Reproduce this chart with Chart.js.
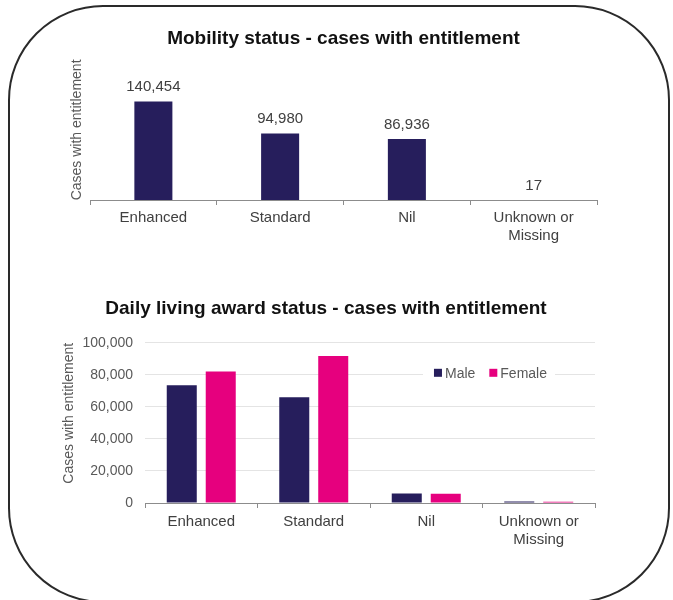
<!DOCTYPE html>
<html>
<head>
<meta charset="utf-8">
<script src="https://cdn.jsdelivr.net/npm/chart.js@4.4.1/dist/chart.umd.min.js"></script>
<style>
html,body{margin:0;padding:0;background:#fff;width:673px;height:600px;overflow:hidden;position:relative;}
#frame{position:absolute;left:8px;top:5px;width:662px;height:598px;box-sizing:border-box;border:2px solid #2a2a2a;border-radius:95px;}
#c1{position:absolute;left:0;top:0;}
#c2{position:absolute;left:0;top:270px;}
</style>
</head>
<body>
<div id="frame"></div>
<canvas id="c1" width="673" height="250"></canvas>
<canvas id="c2" width="673" height="293"></canvas>
<script>
// ---- data ----
const categories = ['Enhanced', 'Standard', 'Nil', ['Unknown or', 'Missing']];
const mobilityValues = [140454, 94980, 86936, 17];
const dailyMale = [73500, 66000, 5900, 900];
const dailyFemale = [82100, 91700, 5700, 800];
const dailyTicks = [0, 20000, 40000, 60000, 80000, 100000];
const seriesNames = ['Male', 'Female'];

const FONT = '"Liberation Sans", Arial, sans-serif';
const NAVY = '#261e5c';
const PINK = '#e6007e';
const AXIS = '#8c8c8c';
const fmt = v => Number(v).toLocaleString('en-US');

// value labels above bars (top chart)
const valueLabels = {
  id: 'valueLabels',
  afterDatasetsDraw(chart) {
    const ctx = chart.ctx;
    const ds = chart.data.datasets[0];
    const meta = chart.getDatasetMeta(0);
    ctx.save();
    ctx.font = '15px ' + FONT;
    ctx.fillStyle = '#404040';
    ctx.textAlign = 'center';
    ctx.textBaseline = 'bottom';
    meta.data.forEach((bar, i) => {
      ctx.fillText(fmt(ds.data[i]), bar.x, bar.y - 7);
    });
    ctx.restore();
  }
};

// legend drawn inside the plot area (bottom chart)
const insideLegend = {
  id: 'insideLegend',
  afterDatasetsDraw(chart) {
    const ctx = chart.ctx;
    const area = chart.chartArea;
    ctx.save();
    ctx.font = '14px ' + FONT;
    const box = 8, gapText = 3, gapItem = 14, padX = 8;
    const items = chart.data.datasets.map(d => ({label: d.label, color: d.backgroundColor, w: ctx.measureText(d.label).width}));
    let total = 0;
    items.forEach((it, i) => { total += box + gapText + it.w + (i ? gapItem : 0); });
    const right = area.right - 40;
    const cy = area.top + 30;
    const startX = right - padX - total;
    ctx.fillStyle = '#fff';
    ctx.fillRect(startX - padX - 3, cy - 10, total + 2 * padX + 3, 20);
    let x = startX;
    ctx.textBaseline = 'middle';
    ctx.textAlign = 'left';
    items.forEach(it => {
      ctx.fillStyle = it.color;
      ctx.fillRect(x, cy - box / 2, box, box);
      x += box + gapText;
      ctx.fillStyle = '#595959';
      ctx.fillText(it.label, x, cy + 1);
      x += it.w + gapItem;
    });
    ctx.restore();
  }
};

new Chart(document.getElementById('c1'), {
  type: 'bar',
  data: {
    labels: categories,
    datasets: [{
      label: 'Cases with entitlement',
      data: mobilityValues,
      backgroundColor: NAVY,
      barPercentage: 1,
      categoryPercentage: 0.3
    }]
  },
  options: {
    responsive: false,
    animation: false,
    events: [],
    layout: {padding: {left: 65, right: 76, top: 17, bottom: 0}},
    plugins: {
      legend: {display: false},
      tooltip: {enabled: false},
      title: {
        display: true,
        fullSize: false,
        text: 'Mobility status - cases with entitlement',
        color: '#111',
        font: {family: FONT, size: 19, weight: 'bold', lineHeight: 1.2},
        padding: {top: 10, bottom: 10}
      }
    },
    scales: {
      x: {
        grid: {drawOnChartArea: false, drawTicks: true, tickLength: 5, color: AXIS, offset: true},
        border: {color: AXIS, width: 1},
        ticks: {color: '#404040', font: {family: FONT, size: 15, lineHeight: 1.25}, padding: 3, maxRotation: 0, autoSkip: false},
        afterFit: s => { s.height = 50; }
      },
      y: {
        min: 0,
        max: 200000,
        grid: {display: false},
        border: {display: false},
        ticks: {display: false},
        title: {display: true, text: 'Cases with entitlement', color: '#595959', font: {family: FONT, size: 14}, padding: {top: 4, bottom: 0}},
        afterFit: s => { s.width = 25; }
      }
    }
  },
  plugins: [valueLabels]
});

new Chart(document.getElementById('c2'), {
  type: 'bar',
  data: {
    labels: categories,
    datasets: [
      {label: seriesNames[0], data: dailyMale, backgroundColor: NAVY, barPercentage: 0.77, categoryPercentage: 0.693},
      {label: seriesNames[1], data: dailyFemale, backgroundColor: PINK, barPercentage: 0.77, categoryPercentage: 0.693}
    ]
  },
  options: {
    responsive: false,
    animation: false,
    events: [],
    layout: {padding: {left: 57, right: 78, top: 17, bottom: 0}},
    plugins: {
      legend: {display: false},
      tooltip: {enabled: false},
      title: {
        display: true,
        fullSize: true,
        text: 'Daily living award status - cases with entitlement',
        color: '#111',
        font: {family: FONT, size: 19, weight: 'bold', lineHeight: 1.2},
        padding: {top: 10, bottom: 23}
      }
    },
    scales: {
      x: {
        grid: {drawOnChartArea: false, drawTicks: true, tickLength: 5, color: AXIS, offset: true},
        border: {color: AXIS, width: 1},
        ticks: {color: '#404040', font: {family: FONT, size: 15, lineHeight: 1.25}, padding: 4, maxRotation: 0, autoSkip: false},
        afterFit: s => { s.height = 60; }
      },
      y: {
        min: 0,
        max: 100000,
        afterBuildTicks: s => { s.ticks = dailyTicks.map(v => ({value: v})); },
        grid: {color: '#e4e4e4', drawTicks: false},
        border: {display: false},
        ticks: {color: '#595959', font: {family: FONT, size: 14}, padding: 12, callback: v => fmt(v)},
        title: {display: true, text: 'Cases with entitlement', align: 'end', color: '#595959', font: {family: FONT, size: 14}, padding: {top: 4, bottom: 0}},
        afterFit: s => { s.width = 88; }
      }
    }
  },
  plugins: [insideLegend]
});
</script>
</body>
</html>
